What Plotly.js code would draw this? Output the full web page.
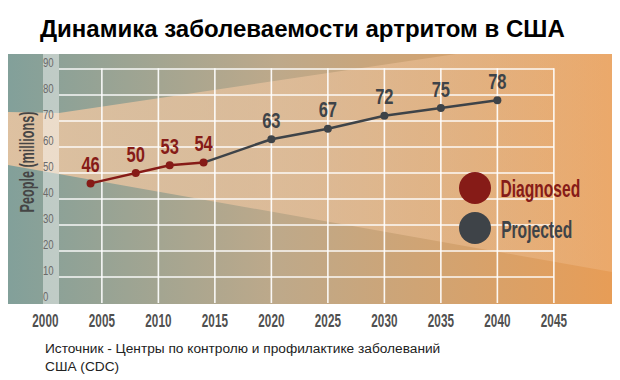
<!DOCTYPE html>
<html>
<head>
<meta charset="utf-8">
<script src="https://cdn.plot.ly/plotly-3.0.1.min.js"></script>
<style>
html,body{margin:0;padding:0;background:#fff;}
#wrap{position:relative;width:620px;height:380px;}
#bg{position:absolute;left:0;top:0;}
#chart{position:absolute;left:0;top:0;width:620px;height:380px;}
</style>
</head>
<body>
<div id="wrap">
<svg id="bg" width="620" height="380" xmlns="http://www.w3.org/2000/svg">
  <defs>
    <linearGradient id="base" x1="8" y1="0" x2="610" y2="0" gradientUnits="userSpaceOnUse">
      <stop offset="0" stop-color="#82a09a"/>
      <stop offset="0.45" stop-color="#bea98a"/>
      <stop offset="1" stop-color="#e79d57"/>
    </linearGradient>
    <linearGradient id="beam" x1="8" y1="0" x2="610" y2="0" gradientUnits="userSpaceOnUse">
      <stop offset="0" stop-color="#f2c8a2" stop-opacity="0.82"/>
      <stop offset="0.5" stop-color="#f2c8a2" stop-opacity="0.55"/>
      <stop offset="1" stop-color="#f4c599" stop-opacity="0.3"/>
    </linearGradient>
  </defs>
  <rect x="8" y="54" width="604" height="250" fill="url(#base)"/>
  <polygon points="8,112 59,113 456,54 612,54 612,272 8,165" fill="url(#beam)"/>
  <rect x="43" y="54" width="16" height="250" fill="#ffffff" fill-opacity="0.45"/>
</svg>
<div id="chart"></div>
</div>
<script>
// ---- data ----
var diagYears = [2004, 2008, 2011, 2014];
var diagValues = [46, 50, 53, 54];
var projYears = [2020, 2025, 2030, 2035, 2040];
var projValues = [63, 67, 72, 75, 78];
var xTicks = [2000, 2005, 2010, 2015, 2020, 2025, 2030, 2035, 2040, 2045];
var yTicks = [0, 10, 20, 30, 40, 50, 60, 70, 80, 90];
var seriesNames = ['Diagnosed', 'Projected'];
var titleText = 'Динамика заболеваемости артритом в США';
var sourceText = 'Источник - Центры по контролю и профилактике заболеваний<br>США (CDC)';
var yTitle = 'People (millions)';

// ---- styles ----
var RED = '#861b17';
var GRAY = '#3e4348';
var SANS = '"Liberation Sans", Arial, sans-serif';

// geometry (pixels)
var L = 43, R = 555, T = 68, B = 303;
var W = R - L, H = B - T;
var gridLeft = 59;
var pxPerYear = 11.3;
var xRight = 2045.1;
var xLeft = xRight - (R - L) / pxPerYear;
var gridStart = xRight - (R - gridLeft) / pxPerYear;
var yMax = (B - T) / 2.6;

var lastD = diagYears.length - 1;
var traces = [
  {x: [diagYears[lastD], projYears[0]], y: [diagValues[lastD], projValues[0]],
   mode: 'lines', line: {color: GRAY, width: 2.5}, showlegend: false, hoverinfo: 'skip'},
  {x: projYears, y: projValues, name: seriesNames[1], mode: 'lines+markers+text',
   text: projValues.map(String), textposition: 'top center',
   textfont: {family: SANS, size: 22, color: GRAY, weight: 700},
   line: {color: GRAY, width: 2.5}, marker: {color: GRAY, size: 8}, showlegend: false},
  {x: diagYears, y: diagValues, name: seriesNames[0], mode: 'lines+markers+text',
   text: diagValues.map(String), textposition: 'top center',
   textfont: {family: SANS, size: 22, color: RED, weight: 700},
   line: {color: RED, width: 2.5}, marker: {color: RED, size: 8}, showlegend: false}
];

function px(x){ return (x - L) / W; }
function py(y){ return (B - y) / H; }

// grid lines (white) built from the tick arrays, in data coordinates
var GRIDC = 'rgba(255,255,255,0.92)';
var shapes = [];
xTicks.slice(1).forEach(function (yr) {
  shapes.push({type: 'line', xref: 'x', yref: 'y', x0: yr, x1: yr,
               y0: yTicks[0], y1: yTicks[yTicks.length - 1] + 0.3,
               layer: 'below', line: {color: GRIDC, width: 1.6}});
});
yTicks.slice(1).forEach(function (v) {
  shapes.push({type: 'line', xref: 'x', yref: 'y', x0: gridStart, x1: xTicks[xTicks.length - 1],
               y0: v, y1: v, layer: 'below', line: {color: GRIDC, width: 1.6}});
});
// legend markers
shapes.push({type: 'circle', xref: 'paper', yref: 'paper', xsizemode: 'pixel', ysizemode: 'pixel',
     xanchor: px(475), yanchor: py(188), x0: -16, x1: 16, y0: -16, y1: 16,
     fillcolor: RED, line: {width: 0}});
shapes.push({type: 'circle', xref: 'paper', yref: 'paper', xsizemode: 'pixel', ysizemode: 'pixel',
     xanchor: px(475), yanchor: py(228), x0: -16, x1: 16, y0: -16, y1: 16,
     fillcolor: GRAY, line: {width: 0}});

var layout = {
  width: 620, height: 380,
  margin: {l: L, r: 620 - R, t: T, b: 380 - B, pad: 0},
  paper_bgcolor: 'rgba(0,0,0,0)',
  plot_bgcolor: 'rgba(0,0,0,0)',
  showlegend: false,
  title: {text: '<b>' + titleText + '</b>', x: 40 / 620, xanchor: 'left', xref: 'container',
          y: 1 - 29 / 380, yanchor: 'middle', yref: 'container',
          font: {family: SANS, size: 24, color: '#000'}},
  xaxis: {range: [xLeft, xRight], tickvals: xTicks, ticktext: xTicks.map(String),
          showgrid: false, zeroline: false, showline: false,
          ticks: 'outside', ticklen: 1, tickcolor: 'rgba(0,0,0,0)',
          ticklabeloverflow: 'allow',
          tickfont: {family: SANS, size: 18, color: '#505050', weight: 700}},
  yaxis: {range: [0, yMax], tickvals: yTicks, ticktext: yTicks.map(String),
          showgrid: false, zeroline: false, showline: false, ticks: '',
          ticklabelposition: 'inside', ticklabelshift: -6, ticklabelstandoff: -3,
          ticklabeloverflow: 'allow',
          tickfont: {family: SANS, size: 12, color: '#6a6a6a'}},
  shapes: shapes,
  annotations: [
    {text: seriesNames[0], xref: 'paper', yref: 'paper', x: px(540), y: py(188),
     xanchor: 'center', yanchor: 'middle', showarrow: false,
     font: {family: SANS, size: 24, color: RED, weight: 700}},
    {text: seriesNames[1], xref: 'paper', yref: 'paper', x: px(536), y: py(229),
     xanchor: 'center', yanchor: 'middle', showarrow: false,
     font: {family: SANS, size: 24, color: GRAY, weight: 700}},
    {text: yTitle, xref: 'paper', yref: 'paper', x: px(27), y: py(162), textangle: -90,
     xanchor: 'center', yanchor: 'middle', showarrow: false,
     font: {family: SANS, size: 20, color: '#454545', weight: 700}},
    {text: sourceText, xref: 'paper', yref: 'paper', x: 0, y: py(339),
     xanchor: 'left', yanchor: 'top', align: 'left', showarrow: false,
     font: {family: SANS, size: 13.7, color: '#222'}}
  ]
};

// condensed look: compress glyphs horizontally (text stays real text)
function squeeze(root, selector, ratio) {
  root.querySelectorAll(selector).forEach(function (t) {
    var w = t.getComputedTextLength();
    if (w > 0) {
      t.setAttribute('textLength', (w * ratio).toFixed(2));
      t.setAttribute('lengthAdjust', 'spacingAndGlyphs');
    }
  });
}

Plotly.newPlot('chart', traces, layout, {displayModeBar: false, staticPlot: true}).then(function (gd) {
  squeeze(gd, '.textpoint text', 0.75);
  squeeze(gd, '.xtick text', 0.65);
  squeeze(gd, '.ytick text', 0.8);
  squeeze(gd, 'g.annotation[data-index="0"] text.annotation-text', 0.65);
  squeeze(gd, 'g.annotation[data-index="1"] text.annotation-text', 0.65);
  squeeze(gd, 'g.annotation[data-index="2"] text.annotation-text', 0.63);
});
</script>
</body>
</html>
